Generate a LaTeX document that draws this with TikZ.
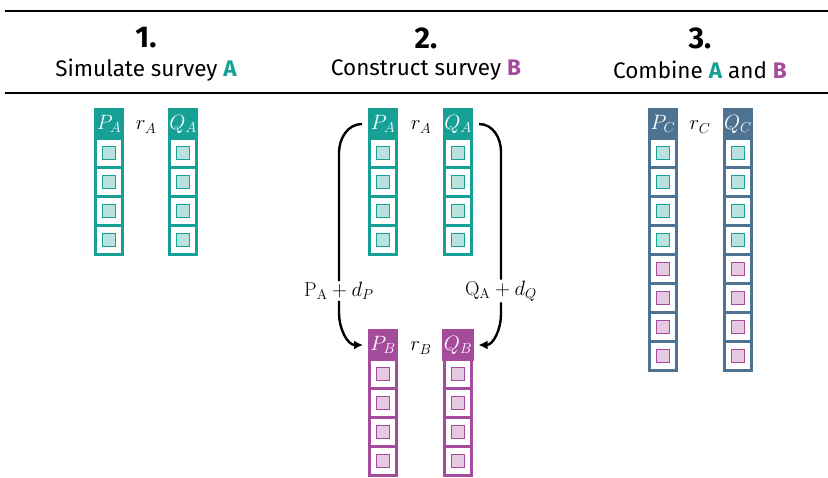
\documentclass[tikz,border=0pt]{standalone}
\usepackage{fontspec}
\setsansfont{Fira Sans}
\usetikzlibrary{arrows.meta,calc}

\definecolor{svA}{RGB}{22,160,150}
\definecolor{svB}{RGB}{165,75,155}
\definecolor{svC}{RGB}{78,114,146}

% one survey column: name, x, header y, colour, header label, list of box colours
\newcommand\surveycol[6]{%
  \node[head=#4] (#1h) at (#2,#3) {$#5$};
  \foreach \k [count=\i] in {#6} {
    \node[cell=#4] (#1\i) at (#2,#3+29*\i) {};
    \node[dotbox=\k] (#1\i d) at (#1\i) {};
  }%
}

\begin{document}
\begin{tikzpicture}[x=1pt,y=-1pt,
  head/.style={draw=#1, fill=#1, line width=3pt, minimum width=27pt,
    minimum height=29pt, inner sep=0pt, text=white,
    font=\fontsize{20}{20}\selectfont},
  cell/.style={draw=#1, fill=white, line width=3pt, minimum width=27pt,
    minimum height=29pt, inner sep=0pt},
  dotbox/.style={draw=#1, fill=#1!30!white, line width=1.1pt,
    minimum size=13.5pt, inner sep=0pt},
  num/.style={font=\sffamily\bfseries\fontsize{30}{30}\selectfont},
  title/.style={font=\sffamily\fontsize{22.5}{22.5}\selectfont},
  rlab/.style={font=\fontsize{20}{20}\selectfont},
  dlab/.style={font=\fontsize{20}{20}\selectfont, inner sep=1pt},
  conn/.style={line width=2.4pt, black},
  rule/.style={line width=2.8pt, black}]
\useasboundingbox (0,0) rectangle (828,477);

% header rules
\coordinate (r1a) at (5,11);  \coordinate (r1b) at (828,11);
\coordinate (r2a) at (5,93);  \coordinate (r2b) at (828,93);
\draw[rule] (r1a) -- (r1b);
\draw[rule] (r2a) -- (r2b);

% step titles
\node[num]   (n1) at (146,38) {1.};
\node[title] (t1) at (146,70) {Simulate survey \textcolor{svA}{\bfseries A}};
\node[num]   (n2) at (426,38) {2.};
\node[title] (t2) at (426,70) {Construct survey \textcolor{svB}{\bfseries B}};
\node[num]   (n3) at (700,38) {3.};
\node[title] (t3) at (700,70) {Combine \textcolor{svA}{\bfseries A} and \textcolor{svB}{\bfseries B}};

% step 1
\surveycol{aP}{109}{124}{svA}{P_A}{svA,svA,svA,svA}
\surveycol{aQ}{183}{124}{svA}{Q_A}{svA,svA,svA,svA}
\node[rlab] (ra) at (146,127) {$r_A$};

% step 2
\surveycol{bP}{383}{124}{svA}{P_A}{svA,svA,svA,svA}
\surveycol{bQ}{458}{124}{svA}{Q_A}{svA,svA,svA,svA}
\node[rlab] (rb1) at (421,127) {$r_A$};
\surveycol{cP}{383}{345}{svB}{P_B}{svB,svB,svB,svB}
\surveycol{cQ}{458}{345}{svB}{Q_B}{svB,svB,svB,svB}
\node[rlab] (rb2) at (421,348) {$r_B$};

\node[dlab] (lp) at (339,291) {$\mathrm{P_A}+d_P$};
\node[dlab] (lq) at (501,291) {$\mathrm{Q_A}+d_Q$};

\draw[conn] ([xshift=-6pt]bPh.west) to[out=180,in=90] ([yshift=128pt]lp.north) -- (lp.north);
\draw[conn,-{Latex[length=9pt,width=9pt]}] (lp.south) -- ([yshift=-12pt]lp.south)
  to[out=-90,in=180] ([xshift=-5pt]cPh.west);
\draw[conn] ([xshift=6pt]bQh.east) to[out=0,in=90] ([yshift=128pt]lq.north) -- (lq.north);
\draw[conn,-{Latex[length=9pt,width=9pt]}] (lq.south) -- ([yshift=-12pt]lq.south)
  to[out=-90,in=0] ([xshift=5pt]cQh.east);

% step 3
\surveycol{dP}{663}{124}{svC}{P_C}{svA,svA,svA,svA,svB,svB,svB,svB}
\surveycol{dQ}{738}{124}{svC}{Q_C}{svA,svA,svA,svA,svB,svB,svB,svB}
\node[rlab] (rc) at (700,127) {$r_C$};
\end{tikzpicture}
\end{document}
